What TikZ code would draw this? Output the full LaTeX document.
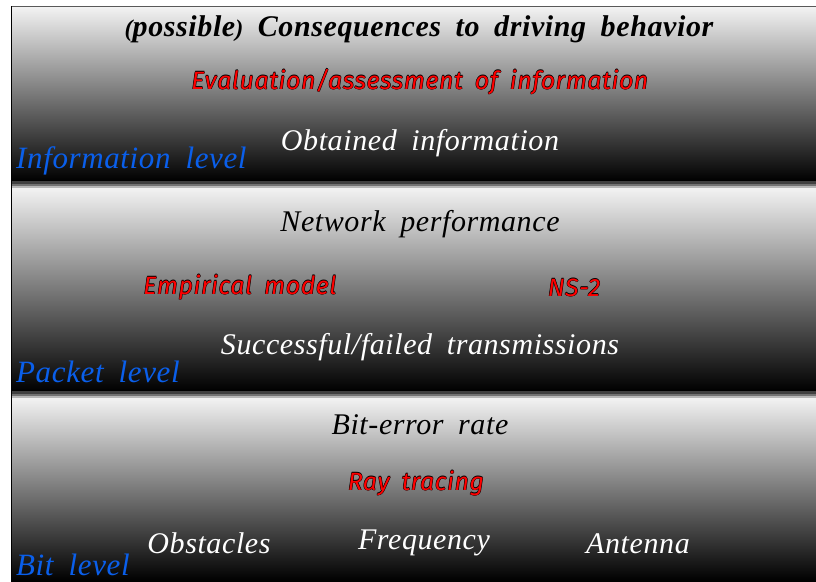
\documentclass[tikz,border=0pt]{standalone}
\usepackage{fontspec}
\setmainfont{Liberation Serif}[WordSpace=1.8,LetterSpace=2]
\newfontfamily\redfont{Fira Sans}[WordSpace=1.7,LetterSpace=2]
\usetikzlibrary{positioning}
\definecolor{lvlblue}{RGB}{10,95,235}
\newcommand\redtxt[1]{\leavevmode\rlap{\kern-0.5pt\textcolor{black}{#1}}\rlap{\kern0.5pt\textcolor{black}{#1}}\rlap{\raisebox{0.5pt}{\textcolor{black}{#1}}}\rlap{\raisebox{-0.5pt}{\textcolor{black}{#1}}}\textcolor{red}{#1}}
\tikzset{
  band/.style={top color=black!5, middle color=black!55, bottom color=black},
  lbl/.style={font=\itshape\fontsize{30}{30}\selectfont, anchor=base, inner sep=0pt},
  lvl/.style={font=\itshape\fontsize{31}{31}\selectfont, anchor=base west, inner sep=0pt, text=lvlblue},
  redl/.style={font=\redfont\itshape\fontsize{25}{25}\selectfont, anchor=base, inner sep=0pt},
}
\begin{document}
\begin{tikzpicture}[x=1pt,y=-1pt]
\useasboundingbox (0,0) rectangle (816,581);
% bands
\shade[band] (11,7) rectangle (816,181);
\shade[band] (11,188) rectangle (816,391);
\shade[band] (11,398) rectangle (816,581);
% separator shadows
\fill[black!75] (11,181) rectangle (816,183.5);
\fill[black!55] (11,183.5) rectangle (816,185.5);
\fill[black!28] (11,185.5) rectangle (816,188);
\fill[black!75] (11,391) rectangle (816,393.5);
\fill[black!55] (11,393.5) rectangle (816,395.5);
\fill[black!28] (11,395.5) rectangle (816,398);
% borders
\draw[black!65, line width=1.5pt] (11,6.5) -- (816,6.5);
\draw[black, line width=1.3pt] (11.5,6) -- (11.5,581);
% information level
\node[lbl, font=\bfseries\itshape\fontsize{30}{30}\selectfont] (title) at (419,36)
  {{\fontsize{24}{24}\selectfont(}possible{\fontsize{24}{24}\selectfont)} Consequences to driving behavior};
\node[redl] (eval) at (420,89) {\redtxt{Evaluation/assessment of information}};
\node[lbl, text=white] (obt) at (420,150) {Obtained information};
\node[lvl] (infolvl) at (16,168) {Information level};
% packet level
\node[lbl] (netperf) at (420,231) {Network performance};
\node[redl] (emp) at (240,294) {\redtxt{Empirical model}};
\node[redl] (ns2) at (574,296) {\redtxt{NS-2}};
\node[lbl, text=white] (succ) at (420,354) {Successful/failed transmissions};
\node[lvl] (pktlvl) at (16,382) {Packet level};
% bit level
\node[lbl] (ber) at (420,434) {Bit-error rate};
\node[redl] (ray) at (416,490) {\redtxt{Ray tracing}};
\node[lbl, text=white] (obst) at (209,553) {Obstacles};
\node[lbl, text=white] (freq) at (424,549) {Frequency};
\node[lbl, text=white] (ant) at (638,553) {Antenna};
\node[lvl] (bitlvl) at (16,575) {Bit level};
\end{tikzpicture}
\end{document}
